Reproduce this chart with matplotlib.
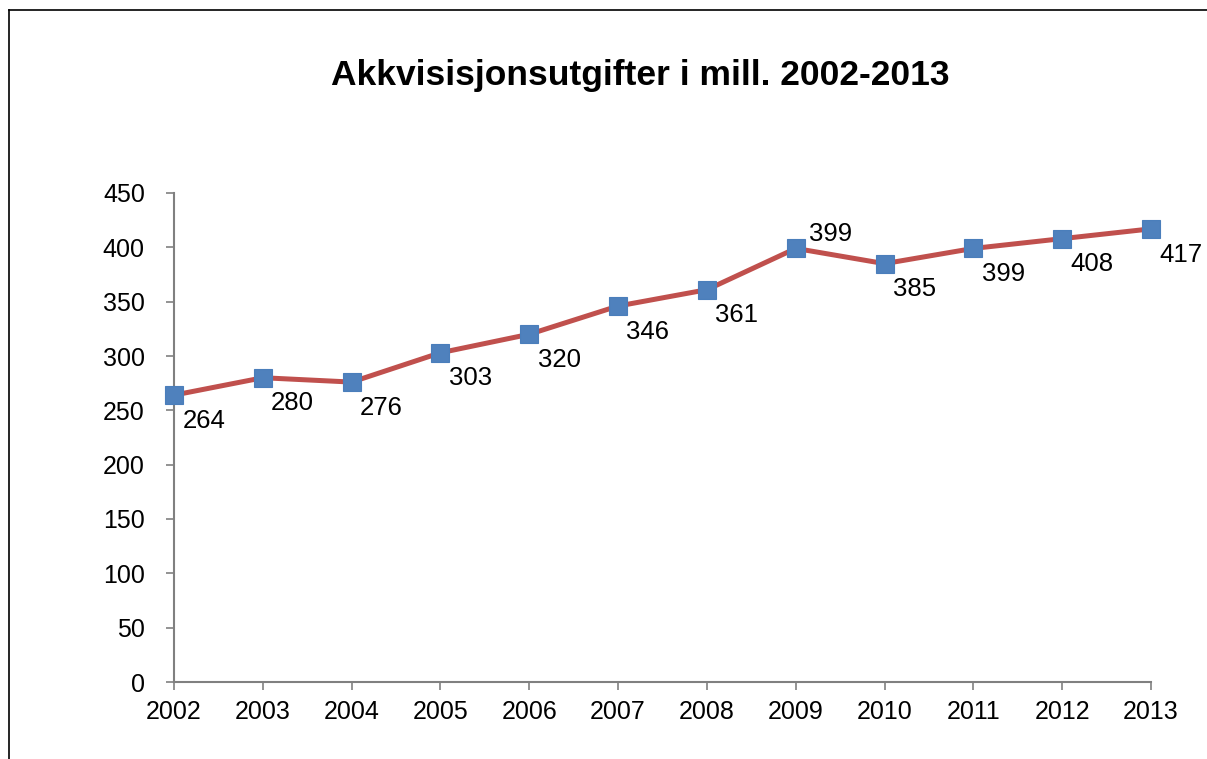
import matplotlib
matplotlib.use("Agg")
import matplotlib.pyplot as plt
from matplotlib.lines import Line2D

years = [2002, 2003, 2004, 2005, 2006, 2007, 2008, 2009, 2010, 2011, 2012, 2013]
values = [264, 280, 276, 303, 320, 346, 361, 399, 385, 399, 408, 417]
yticks = [0, 50, 100, 150, 200, 250, 300, 350, 400, 450]
title = "Akkvisisjonsutgifter i mill. 2002-2013"

plt.rcParams['font.family'] = ['Liberation Sans', 'DejaVu Sans']

fig = plt.figure(figsize=(12.07, 7.59), dpi=100)
ax = fig.add_axes([174/1207, 1 - 682/759, (1151 - 174)/1207, (682 - 193)/759])

ax.plot(years, values, color='#C0504D', lw=3.6, marker='s', markersize=13.5,
        markerfacecolor='#4F81BD', markeredgecolor='#4A7EBB', markeredgewidth=0.8,
        zorder=3, clip_on=False)

for x, v in zip(years, values):
    if x == 2009:
        ax.annotate(str(v), (x, v), xytext=(25, 10.5), textcoords='offset points',
                    ha='center', va='center', fontsize=18.5)
    else:
        ax.annotate(str(v), (x, v), xytext=(21.5, -18.5), textcoords='offset points',
                    ha='center', va='center', fontsize=18.5)

ax.set_xlim(2002, 2013)
ax.set_ylim(0, 450)
ax.set_xticks(years)
ax.set_xticklabels([str(y) for y in years])
ax.set_yticks(yticks)
ax.tick_params(axis='both', labelsize=18, color='#808080', length=6, width=1.2,
               direction='out')
ax.tick_params(axis='x', pad=7)
ax.tick_params(axis='y', pad=15)
for s in ['top', 'right']:
    ax.spines[s].set_visible(False)
for s in ['left', 'bottom']:
    ax.spines[s].set_color('#808080')
    ax.spines[s].set_linewidth(1.5)

fig.text(640/1207, 1 - 76/759, title, ha='center', va='center',
         fontsize=25.5, fontweight='bold')

# figure frame (top and left edges visible)
fig.add_artist(Line2D([9/1207, 9/1207], [0, 1 - 10/759], transform=fig.transFigure,
                      color='#000000', lw=1.2))
fig.add_artist(Line2D([9/1207, 1], [1 - 10/759, 1 - 10/759], transform=fig.transFigure,
                      color='#000000', lw=1.2))

fig.savefig('out.png', dpi=100)
